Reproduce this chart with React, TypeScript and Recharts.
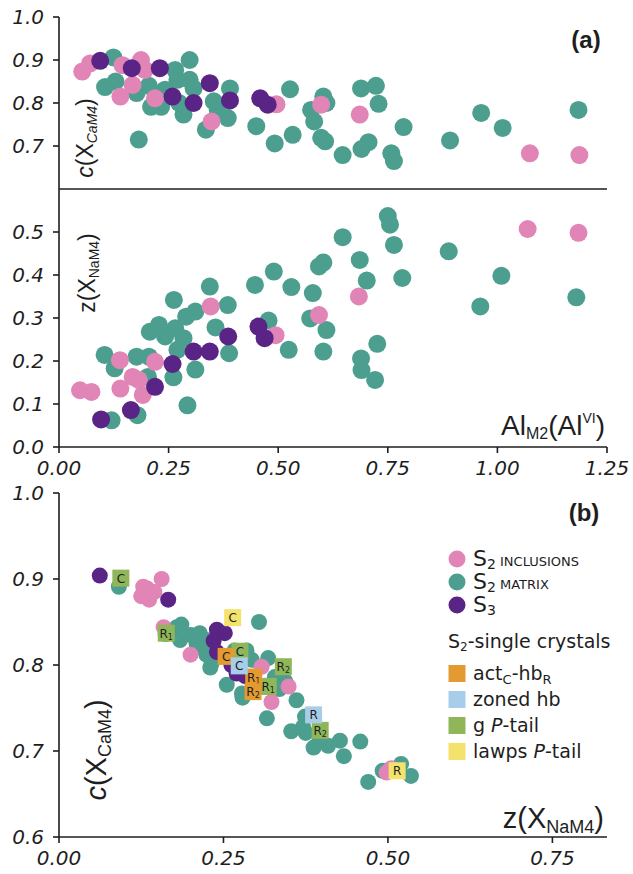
import React from 'react';
import { ScatterChart, Scatter, XAxis, YAxis } from 'recharts';

// axis ticks
const alTicks = [0, 0.25, 0.5, 0.75, 1.0, 1.25];
const zbTicks = [0, 0.25, 0.5, 0.75];
const cTicks = [0.6, 0.7, 0.8, 0.9, 1.0];
const zaTicks = [0, 0.1, 0.2, 0.3, 0.4, 0.5];

// panel (a) top: [Al_M2, c]
const inclAlC = [
  [0.053, 0.873], [0.071, 0.892], [0.145, 0.888], [0.140, 0.815], [0.168, 0.842],
  [0.187, 0.900], [0.196, 0.877], [0.219, 0.811], [0.348, 0.757], [0.496, 0.797],
  [0.598, 0.796], [0.686, 0.773], [1.074, 0.683], [1.187, 0.679],
];
const matrixAlC = [
  [0.105, 0.837], [0.124, 0.906], [0.129, 0.850], [0.182, 0.715], [0.177, 0.823],
  [0.205, 0.840], [0.210, 0.791], [0.233, 0.791], [0.242, 0.831], [0.265, 0.877],
  [0.270, 0.854], [0.284, 0.773], [0.298, 0.900], [0.298, 0.854], [0.307, 0.834],
  [0.274, 0.800], [0.335, 0.738], [0.353, 0.804], [0.362, 0.784], [0.385, 0.765],
  [0.390, 0.834], [0.450, 0.746], [0.492, 0.706], [0.527, 0.832], [0.533, 0.726],
  [0.575, 0.784], [0.582, 0.757], [0.603, 0.815], [0.610, 0.800], [0.598, 0.719],
  [0.607, 0.711], [0.647, 0.679], [0.689, 0.834], [0.690, 0.693], [0.706, 0.709],
  [0.723, 0.840], [0.729, 0.798], [0.758, 0.683], [0.764, 0.665], [0.786, 0.744],
  [0.892, 0.713], [0.963, 0.777], [1.012, 0.742], [1.185, 0.784],
];
const s3AlC = [
  [0.094, 0.898], [0.166, 0.881], [0.230, 0.881], [0.259, 0.815], [0.307, 0.800],
  [0.344, 0.846], [0.390, 0.806], [0.459, 0.811], [0.476, 0.796],
];

// panel (a) bottom: [Al_M2, z]
const inclAlZ = [
  [0.048, 0.132], [0.074, 0.128], [0.139, 0.202], [0.140, 0.136], [0.168, 0.163],
  [0.182, 0.156], [0.191, 0.121], [0.219, 0.198], [0.346, 0.327], [0.494, 0.260],
  [0.593, 0.307], [0.684, 0.350], [1.069, 0.507], [1.185, 0.498],
];
const matrixAlZ = [
  [0.104, 0.214], [0.127, 0.183], [0.120, 0.062], [0.179, 0.074], [0.177, 0.210],
  [0.205, 0.210], [0.203, 0.163], [0.207, 0.268], [0.228, 0.284], [0.242, 0.257],
  [0.261, 0.162], [0.262, 0.342], [0.265, 0.276], [0.270, 0.226], [0.284, 0.253],
  [0.290, 0.303], [0.293, 0.097], [0.311, 0.180], [0.311, 0.315], [0.344, 0.373],
  [0.357, 0.278], [0.385, 0.330], [0.388, 0.218], [0.447, 0.377], [0.478, 0.294],
  [0.490, 0.408], [0.524, 0.226], [0.530, 0.372], [0.573, 0.299], [0.579, 0.358],
  [0.593, 0.420], [0.603, 0.429], [0.603, 0.222], [0.610, 0.272], [0.647, 0.488],
  [0.686, 0.435], [0.689, 0.206], [0.690, 0.179], [0.702, 0.387], [0.721, 0.156],
  [0.726, 0.240], [0.750, 0.537], [0.755, 0.517], [0.764, 0.470], [0.783, 0.393],
  [0.889, 0.455], [0.961, 0.327], [1.009, 0.398], [1.180, 0.348],
];
const s3AlZ = [
  [0.096, 0.064], [0.164, 0.086], [0.219, 0.140], [0.259, 0.193], [0.307, 0.222],
  [0.344, 0.222], [0.386, 0.257], [0.455, 0.280], [0.469, 0.253],
];

// panel (b): [z, c]
const inclZC = [
  [0.125, 0.880], [0.134, 0.889], [0.156, 0.900], [0.137, 0.876], [0.128, 0.891],
  [0.145, 0.885], [0.159, 0.844], [0.200, 0.812], [0.308, 0.798], [0.349, 0.775],
  [0.323, 0.757], [0.498, 0.675], [0.505, 0.680],
];
const matrixZC = [
  [0.091, 0.891], [0.162, 0.836], [0.179, 0.844], [0.186, 0.847], [0.184, 0.829],
  [0.200, 0.835], [0.205, 0.834], [0.214, 0.837], [0.209, 0.825], [0.224, 0.829],
  [0.217, 0.820], [0.224, 0.812], [0.232, 0.802], [0.230, 0.797], [0.267, 0.817],
  [0.285, 0.817], [0.293, 0.806], [0.304, 0.850], [0.255, 0.777], [0.278, 0.767],
  [0.279, 0.762], [0.318, 0.808], [0.328, 0.786], [0.336, 0.785], [0.313, 0.776],
  [0.335, 0.772], [0.344, 0.781], [0.361, 0.759], [0.316, 0.738], [0.353, 0.723],
  [0.371, 0.728], [0.374, 0.740], [0.375, 0.721], [0.387, 0.704], [0.396, 0.712],
  [0.409, 0.706], [0.427, 0.712], [0.433, 0.694], [0.458, 0.711], [0.470, 0.664],
  [0.492, 0.677], [0.520, 0.685], [0.535, 0.671],
];
const s3ZC = [
  [0.062, 0.904], [0.166, 0.876], [0.240, 0.841], [0.252, 0.837], [0.240, 0.815],
  [0.262, 0.800], [0.270, 0.790], [0.283, 0.787], [0.235, 0.828],
];

// S2 single crystals (b): z, c, core/rim label
const actCrystals = [
  { x: 0.254, y: 0.810, label: 'C' }, { x: 0.296, y: 0.786, label: 'R1' }, { x: 0.295, y: 0.769, label: 'R2' },
];
const zonedCrystals = [
  { x: 0.274, y: 0.799, label: 'C' }, { x: 0.387, y: 0.742, label: 'R' },
];
const gCrystals = [
  { x: 0.094, y: 0.901, label: 'C' }, { x: 0.163, y: 0.837, label: 'R1' }, { x: 0.275, y: 0.816, label: 'C' },
  { x: 0.318, y: 0.775, label: 'R1' }, { x: 0.341, y: 0.798, label: 'R2' }, { x: 0.397, y: 0.724, label: 'R2' },
];
const lawpsCrystals = [
  { x: 0.264, y: 0.855, label: 'C' }, { x: 0.514, y: 0.677, label: 'R' },
];

const PINK = '#e184b6';
const TEAL = '#4c9f8f';
const PURPLE = '#5a2386';
const ORANGE = '#e39a30';
const LBLUE = '#a8cde8';
const GREEN = '#8fb75a';
const YELLOW = '#f3e26c';
const INK = '#1e1e1e';
const FONT = '"DejaVu Sans", sans-serif';

const pts = (arr: number[][]) => arr.map(([x, y]) => ({ x, y }));

const dot = (fill: string, r: number) => (p: any) => (
  <circle cx={p.cx} cy={p.cy} r={r} fill={fill} />
);

const square = (fill: string) => (p: any) => {
  const lab: string = p.payload?.label ?? '';
  return (
    <g>
      <rect x={p.cx - 8.5} y={p.cy - 8.5} width={17} height={17} fill={fill} />
      <text x={p.cx} y={p.cy + 4.5} textAnchor="middle" fontSize={12} fontFamily={FONT} fill={INK}>
        {lab[0]}
        {lab.length > 1 && <tspan fontSize={8} dy={2}>{lab.slice(1)}</tspan>}
      </text>
    </g>
  );
};

const tickStyle = { fontSize: 20, fontStyle: 'italic', fontFamily: FONT, fill: INK };
const axisLine = { stroke: INK, strokeWidth: 1.6 };
const fmt1 = (v: number) => v.toFixed(1);
const fmt2 = (v: number) => v.toFixed(2);

function PanelATop() {
  return (
    <ScatterChart width={633} height={200} margin={{ top: 17, right: 26, bottom: 11, left: 0 }}>
      <XAxis type="number" dataKey="x" domain={[0, 1.25]} ticks={alTicks} hide allowDataOverflow />
      <YAxis type="number" dataKey="y" domain={[0.6, 1.0]} ticks={cTicks} width={59} tickFormatter={fmt1}
        tick={tickStyle} axisLine={axisLine} tickLine={axisLine} tickSize={6} tickMargin={9} allowDataOverflow />
      <Scatter data={pts(matrixAlC)} shape={dot(TEAL, 9)} isAnimationActive={false} />
      <Scatter data={pts(inclAlC)} shape={dot(PINK, 9)} isAnimationActive={false} />
      <Scatter data={pts(s3AlC)} shape={dot(PURPLE, 9)} isAnimationActive={false} />
    </ScatterChart>
  );
}

function PanelABottom() {
  return (
    <ScatterChart width={633} height={310} margin={{ top: 8, right: 26, bottom: 3, left: 0 }}>
      {/* shared boundary with the upper panel, ticks pointing up */}
      <XAxis xAxisId="sep" orientation="top" type="number" domain={[0, 1.25]} ticks={alTicks} height={1}
        tick={false} axisLine={axisLine} tickLine={axisLine} tickSize={7} allowDataOverflow />
      <XAxis type="number" dataKey="x" domain={[0, 1.25]} ticks={alTicks} height={40} tickFormatter={fmt2}
        tick={tickStyle} axisLine={axisLine} tickLine={axisLine} tickSize={6} tickMargin={8} allowDataOverflow />
      <YAxis type="number" dataKey="y" domain={[0, 0.6]} ticks={zaTicks} width={59} tickFormatter={fmt1}
        tick={tickStyle} axisLine={axisLine} tickLine={axisLine} tickSize={6} tickMargin={9} allowDataOverflow />
      <Scatter data={pts(matrixAlZ)} shape={dot(TEAL, 9)} isAnimationActive={false} />
      <Scatter data={pts(inclAlZ)} shape={dot(PINK, 9)} isAnimationActive={false} />
      <Scatter data={pts(s3AlZ)} shape={dot(PURPLE, 9)} isAnimationActive={false} />
    </ScatterChart>
  );
}

function PanelB() {
  return (
    <ScatterChart width={633} height={394} margin={{ top: 13, right: 26, bottom: 3, left: 0 }}>
      <XAxis type="number" dataKey="x" domain={[0, 0.833]} ticks={zbTicks} height={34} tickFormatter={fmt2}
        tick={tickStyle} axisLine={axisLine} tickLine={axisLine} tickSize={6} tickMargin={8} allowDataOverflow />
      <YAxis type="number" dataKey="y" domain={[0.6, 1.0]} ticks={cTicks} width={59} tickFormatter={fmt1}
        tick={tickStyle} axisLine={axisLine} tickLine={axisLine} tickSize={6} tickMargin={9} allowDataOverflow />
      <Scatter data={pts(matrixZC)} shape={dot(TEAL, 8)} isAnimationActive={false} />
      <Scatter data={pts(inclZC)} shape={dot(PINK, 8)} isAnimationActive={false} />
      <Scatter data={pts(s3ZC)} shape={dot(PURPLE, 8)} isAnimationActive={false} />
      <Scatter data={gCrystals} shape={square(GREEN)} isAnimationActive={false} />
      <Scatter data={lawpsCrystals} shape={square(YELLOW)} isAnimationActive={false} />
      <Scatter data={actCrystals} shape={square(ORANGE)} isAnimationActive={false} />
      <Scatter data={zonedCrystals} shape={square(LBLUE)} isAnimationActive={false} />
    </ScatterChart>
  );
}

function Annotations() {
  const legendDots = [
    { fill: PINK, sub: '2', rest: ' INCLUSIONS' },
    { fill: TEAL, sub: '2', rest: ' MATRIX' },
    { fill: PURPLE, sub: '3', rest: '' },
  ];
  const legendBoxes = [
    { fill: ORANGE, node: (<>act<tspan fontSize={13} dy={4}>C</tspan><tspan dy={-4}>-hb</tspan><tspan fontSize={13} dy={4}>R</tspan></>) },
    { fill: LBLUE, node: (<>zoned hb</>) },
    { fill: GREEN, node: (<>g <tspan fontStyle="italic">P</tspan>-tail</>) },
    { fill: YELLOW, node: (<>lawps <tspan fontStyle="italic">P</tspan>-tail</>) },
  ];
  return (
    <svg width={633} height={874} style={{ position: 'absolute', left: 0, top: 0, pointerEvents: 'none' }}>
      <g fontFamily='"Liberation Sans", Arial, sans-serif' fill={INK}>
        <text x={586} y={48} fontSize={24} fontWeight="bold" textAnchor="middle">(a)</text>
        <text x={584} y={521} fontSize={24} fontWeight="bold" textAnchor="middle">(b)</text>

        <text x={93} y={138} fontSize={23} textAnchor="middle" transform="rotate(-90 93 138)">
          <tspan fontStyle="italic">c</tspan>(X<tspan fontSize={14} fontStyle="italic" dy={4}>CaM4</tspan><tspan dy={-4}>)</tspan>
        </text>
        <text x={95} y={273} fontSize={23} textAnchor="middle" transform="rotate(-90 95 273)">
          z(X<tspan fontSize={14} dy={4}>NaM4</tspan><tspan dy={-4}>)</tspan>
        </text>
        <text x={605} y={435} fontSize={28} textAnchor="end">
          Al<tspan fontSize={16} dy={4}>M2</tspan><tspan dy={-4}>(Al</tspan><tspan fontSize={14} dy={-12}>VI</tspan><tspan dy={12}>)</tspan>
        </text>

        <text x={106} y={750} fontSize={29} textAnchor="middle" transform="rotate(-90 106 750)">
          <tspan fontStyle="italic">c</tspan>(X<tspan fontSize={18} dy={5}>CaM4</tspan><tspan dy={-5}>)</tspan>
        </text>
        <text x={604} y={828} fontSize={29} textAnchor="end">
          z(X<tspan fontSize={18} dy={5}>NaM4</tspan><tspan dy={-5}>)</tspan>
        </text>
      </g>

      <g fontFamily={FONT} fill={INK}>
        {legendDots.map((d, i) => (
          <g key={i}>
            <circle cx={457} cy={559 + i * 23} r={8.5} fill={d.fill} />
            <text x={473} y={566 + i * 23} fontSize={22}>
              S<tspan fontSize={14} dy={3}>{d.sub}</tspan><tspan fontSize={13} dy={-3}>{d.rest}</tspan>
            </text>
          </g>
        ))}
        <text x={448} y={648} fontSize={19}>
          S<tspan fontSize={12} dy={3}>2</tspan><tspan dy={-3}>-single crystals</tspan>
        </text>
        {legendBoxes.map((b, i) => (
          <g key={i}>
            <rect x={448.5} y={665 + i * 26} width={17} height={17} fill={b.fill} />
            <text x={473} y={680 + i * 26} fontSize={19}>{b.node}</text>
          </g>
        ))}
      </g>
    </svg>
  );
}

export default function App() {
  return (
    <div style={{ position: 'absolute', left: 0, top: 0, width: 633, height: 874, background: '#fff' }}>
      <div style={{ position: 'absolute', left: 0, top: 0 }}><PanelATop /></div>
      <div style={{ position: 'absolute', left: 0, top: 180 }}><PanelABottom /></div>
      <div style={{ position: 'absolute', left: 0, top: 480 }}><PanelB /></div>
      <Annotations />
    </div>
  );
}
